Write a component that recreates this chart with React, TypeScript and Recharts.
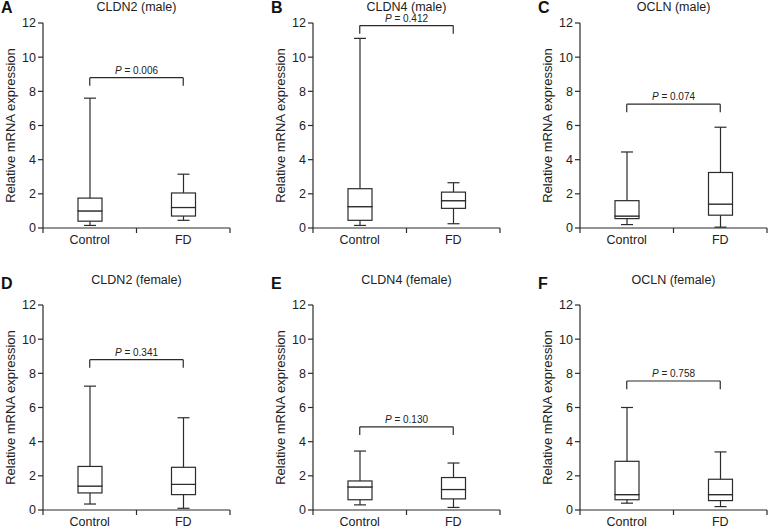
import { ComposedChart, Bar, XAxis, YAxis, ReferenceLine } from 'recharts';

const groups = ['Control', 'FD'];
const panelLetters = ['A', 'B', 'C', 'D', 'E', 'F'];
const panelTitles = ['CLDN2 (male)', 'CLDN4 (male)', 'OCLN (male)', 'CLDN2 (female)', 'CLDN4 (female)', 'OCLN (female)'];
const yTicks = [0, 2, 4, 6, 8, 10, 12];

// [Control, FD] for each panel
const whiskerMin = [[0.15, 0.45], [0.15, 0.25], [0.2, 0.05], [0.35, 0.1], [0.3, 0.15], [0.4, 0.2]];
const q1Values = [[0.4, 0.7], [0.45, 1.15], [0.55, 0.75], [1.0, 0.9], [0.6, 0.65], [0.6, 0.55]];
const medians = [[1.0, 1.2], [1.25, 1.6], [0.7, 1.4], [1.4, 1.5], [1.35, 1.2], [0.9, 0.9]];
const q3Values = [[1.75, 2.05], [2.3, 2.1], [1.6, 3.25], [2.55, 2.5], [1.7, 1.9], [2.85, 1.8]];
const whiskerMax = [[7.6, 3.15], [11.1, 2.65], [4.45, 5.9], [7.25, 5.4], [3.45, 2.75], [6.0, 3.4]];
const pValues = ['0.006', '0.412', '0.074', '0.341', '0.130', '0.758'];
const bracketY = [8.8, 11.85, 7.25, 8.8, 4.87, 7.55];

const INK = '#2b2b2b';
const FONT = '"Liberation Sans", Arial, Helvetica, sans-serif';
const BRACKET_DROP = 0.48;

const AXIS_LEFT = [43, 313, 580];
const PLOT_TOP = [23, 305];
const PLOT_W = 187;
const PLOT_H = 205;
const Y_AXIS_W = 43;
const M_TOP = 12;

const LowWhisker = (props: any) => {
  const { x, y, width, height } = props;
  const cx = x + width / 2;
  return (
    <g stroke={INK} strokeWidth={1.2}>
      <line x1={cx} x2={cx} y1={y} y2={y + height} />
      <line x1={cx - width / 4} x2={cx + width / 4} y1={y + height} y2={y + height} />
    </g>
  );
};

const HighWhisker = (props: any) => {
  const { x, y, width, height } = props;
  const cx = x + width / 2;
  return (
    <g stroke={INK} strokeWidth={1.2}>
      <line x1={cx} x2={cx} y1={y} y2={y + height} />
      <line x1={cx - width / 4} x2={cx + width / 4} y1={y} y2={y} />
    </g>
  );
};

const BoxPart = (props: any) => {
  const { x, y, width, height } = props;
  return <rect x={x} y={y} width={width} height={height} fill="#fff" stroke={INK} strokeWidth={1.2} />;
};

const XTick = (props: any) => {
  const { x, y, payload } = props;
  const v = payload.value;
  if (Number.isInteger(v)) {
    return <line x1={x} x2={x} y1={y - 7} y2={y - 2} stroke={INK} strokeWidth={1.2} />;
  }
  return (
    <text x={x} y={y} dy="0.71em" textAnchor="middle" fontSize={12.5} fill="#222" fontFamily={FONT}>
      {groups[Math.floor(v)]}
    </text>
  );
};

const Panel = ({ idx }: { idx: number }) => {
  const col = idx % 3;
  const row = Math.floor(idx / 3);
  const axisX = AXIS_LEFT[col];
  const top = PLOT_TOP[row];

  const rows = groups.map((g, i) => ({
    name: g,
    pos: i + 0.5,
    base: whiskerMin[idx][i],
    lowW: q1Values[idx][i] - whiskerMin[idx][i],
    boxLo: medians[idx][i] - q1Values[idx][i],
    boxHi: q3Values[idx][i] - medians[idx][i],
    highW: whiskerMax[idx][i] - q3Values[idx][i],
  }));

  const by = bracketY[idx];
  const p = pValues[idx];

  return (
    <>
      <div
        style={{
          position: 'absolute',
          left: axisX - 42,
          top: top - (row === 0 ? 24 : 30),
          fontFamily: FONT,
          fontWeight: 'bold',
          fontSize: 16,
          color: '#111',
        }}
      >
        {panelLetters[idx]}
      </div>
      <div
        style={{
          position: 'absolute',
          left: axisX,
          width: PLOT_W,
          top: top - (row === 0 ? 23 : 32),
          textAlign: 'center',
          fontFamily: FONT,
          fontSize: 12.5,
          color: '#222',
        }}
      >
        {panelTitles[idx]}
      </div>
      <div style={{ position: 'absolute', left: axisX - Y_AXIS_W, top: top - M_TOP }}>
        <ComposedChart
          width={Y_AXIS_W + PLOT_W + 4}
          height={M_TOP + PLOT_H + 30}
          data={rows}
          margin={{ top: M_TOP, right: 4, bottom: 0, left: 0 }}
          barSize={24}
        >
          <XAxis
            type="number"
            dataKey="pos"
            domain={[0, 2]}
            ticks={[0, 0.5, 1, 1.5, 2]}
            interval={0}
            height={30}
            tickSize={5}
            tickMargin={2}
            tickLine={false}
            tick={<XTick />}
            axisLine={{ stroke: INK, strokeWidth: 1.2 }}
          />
          <YAxis
            type="number"
            domain={[0, 12]}
            ticks={yTicks}
            interval={0}
            width={Y_AXIS_W}
            tickSize={5}
            tickMargin={2}
            tick={{ fontSize: 12.5, fill: '#222', fontFamily: FONT }}
            tickLine={{ stroke: INK, strokeWidth: 1.2 }}
            axisLine={{ stroke: INK, strokeWidth: 1.2 }}
            label={{
              value: 'Relative mRNA expression',
              angle: -90,
              position: 'insideLeft',
              offset: 10,
              style: { textAnchor: 'middle', fontSize: 13, fill: '#222', fontFamily: FONT },
            }}
          />
          <Bar dataKey="base" stackId="b" fill="transparent" shape={() => <g />} isAnimationActive={false} />
          <Bar dataKey="lowW" stackId="b" shape={<LowWhisker />} isAnimationActive={false} />
          <Bar dataKey="boxLo" stackId="b" shape={<BoxPart />} isAnimationActive={false} />
          <Bar dataKey="boxHi" stackId="b" shape={<BoxPart />} isAnimationActive={false} />
          <Bar dataKey="highW" stackId="b" shape={<HighWhisker />} isAnimationActive={false} />
          <ReferenceLine
            segment={[{ x: 0.5, y: by }, { x: 1.5, y: by }]}
            stroke={INK}
            strokeWidth={1.2}
            label={{
              content: (lp: any) => {
                const vb = lp.viewBox || {};
                return (
                  <text
                    x={vb.x + (vb.width || 0) / 2}
                    y={vb.y - 4}
                    textAnchor="middle"
                    fontSize={10}
                    fill="#222"
                    fontFamily={FONT}
                  >
                    <tspan fontStyle="italic">P</tspan> = {p}
                  </text>
                );
              },
            }}
          />
          <ReferenceLine segment={[{ x: 0.5, y: by }, { x: 0.5, y: by - BRACKET_DROP }]} stroke={INK} strokeWidth={1.2} />
          <ReferenceLine segment={[{ x: 1.5, y: by }, { x: 1.5, y: by - BRACKET_DROP }]} stroke={INK} strokeWidth={1.2} />
        </ComposedChart>
      </div>
    </>
  );
};

export default function App() {
  return (
    <div
      style={{
        position: 'absolute',
        left: 0,
        top: 0,
        width: 768,
        height: 530,
        background: '#fff',
        overflow: 'hidden',
      }}
    >
      {panelLetters.map((_, i) => (
        <Panel key={i} idx={i} />
      ))}
    </div>
  );
}
